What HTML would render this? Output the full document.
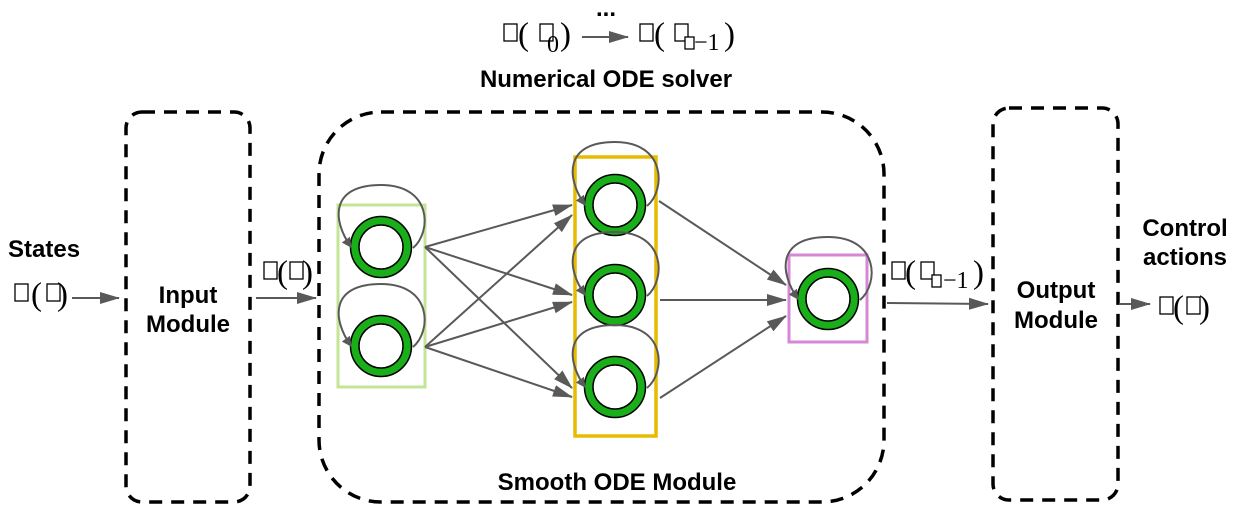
<!DOCTYPE html>
<html><head><meta charset="utf-8"><style>
html,body{margin:0;padding:0;background:#fff;}
svg{display:block;font-family:"Liberation Sans",sans-serif;}
.b{font-weight:bold;font-size:24px;fill:#000;font-family:"Liberation Sans",sans-serif;}
.p{font-family:"Liberation Serif",serif;font-size:33px;fill:#000;}
.s{font-family:"Liberation Serif",serif;font-size:24px;fill:#000;}
.t{fill:#fff;stroke:#000;stroke-width:1.3;}
</style></head><body>
<svg width="1242" height="517" viewBox="0 0 1242 517" xmlns="http://www.w3.org/2000/svg">
<defs>
<marker id="a" markerWidth="10" markerHeight="10" refX="9" refY="5" orient="auto" markerUnits="userSpaceOnUse" viewBox="0 0 10 10">
<path d="M0,0 L10,5 L0,10 z" fill="#595959"/></marker>
<marker id="a2" markerWidth="20" markerHeight="14" refX="19" refY="7" orient="auto" markerUnits="userSpaceOnUse" viewBox="0 0 20 14">
<path d="M0,1 L20,7 L0,13 z" fill="#595959"/></marker>
</defs>

<g fill="none" stroke="#000" stroke-width="3.5" stroke-dasharray="13,9">
<rect x="126" y="112" width="124" height="390" rx="16"/>
<rect x="319" y="112" width="565" height="390" rx="62"/>
<rect x="993" y="108" width="125" height="392" rx="16"/>
</g>

<rect x="338" y="205" width="87" height="182" fill="none" stroke="#c3e596" stroke-width="3"/>
<rect x="575" y="157" width="81" height="279" fill="none" stroke="#e6bb00" stroke-width="3.5"/>
<rect x="789" y="255" width="78" height="87" fill="none" stroke="#d687d6" stroke-width="3"/>

<g stroke="#595959" stroke-width="2" fill="none" marker-end="url(#a2)">
<line x1="425" y1="247" x2="572" y2="205"/>
<line x1="425" y1="247" x2="572" y2="295"/>
<line x1="425" y1="247" x2="572" y2="388"/>
<line x1="425" y1="347" x2="572" y2="215"/>
<line x1="425" y1="347" x2="572" y2="302"/>
<line x1="425" y1="347" x2="572" y2="397"/>
<line x1="659" y1="201" x2="786" y2="285"/>
<line x1="660" y1="300" x2="786" y2="300"/>
<line x1="660" y1="398" x2="786" y2="316"/>
<line x1="72" y1="298" x2="119" y2="298"/>
<line x1="256" y1="298" x2="316" y2="298"/>
<line x1="887" y1="303" x2="988" y2="304"/>
<line x1="1119" y1="304" x2="1150" y2="304"/>
<line x1="582" y1="37" x2="628" y2="37"/>
</g>

<g fill="#1aaf1a" stroke="#000" stroke-width="1.5">
<circle cx="381" cy="247" r="30.5"/><circle cx="381" cy="346" r="30.5"/>
<circle cx="615" cy="205" r="30.5"/><circle cx="615" cy="295" r="30.5"/><circle cx="615" cy="387" r="30.5"/>
<circle cx="828" cy="299" r="30.5"/>
</g>
<g fill="#fff" stroke="#000" stroke-width="1.5">
<circle cx="381" cy="247" r="22"/><circle cx="381" cy="346" r="22"/>
<circle cx="615" cy="205" r="22"/><circle cx="615" cy="295" r="22"/><circle cx="615" cy="387" r="22"/>
<circle cx="828" cy="299" r="22"/>
</g>

<g stroke="#595959" stroke-width="2" fill="none" marker-end="url(#a)">
<path d="M413,248 C432,232 432,185 381,185 C330,185 332,220 351,247"/>
<path d="M413,347 C432,331 432,284 381,284 C330,284 332,319 351,346"/>
<path d="M647,206 C666,190 666,142 615,142 C564,142 566,178 585,205"/>
<path d="M647,296 C666,280 666,232 615,232 C564,232 566,268 585,295"/>
<path d="M647,388 C666,372 666,325 615,325 C564,325 566,360 585,387"/>
<path d="M860,300 C879,284 879,237 828,237 C777,237 779,272 798,299"/>
</g>

<text class="b" x="8" y="257">States</text>
<text class="b" x="188" y="303" text-anchor="middle">Input</text>
<text class="b" x="188" y="332" text-anchor="middle">Module</text>
<text class="b" x="617" y="490" text-anchor="middle">Smooth ODE Module</text>
<text class="b" x="1056" y="298" text-anchor="middle">Output</text>
<text class="b" x="1056" y="328" text-anchor="middle">Module</text>
<text class="b" x="1185" y="236" text-anchor="middle">Control</text>
<text class="b" x="1185" y="265" text-anchor="middle">actions</text>
<text class="b" x="606" y="87" text-anchor="middle">Numerical ODE solver</text>
<text class="b" x="606" y="16" text-anchor="middle">...</text>

<g class="t">
<rect x="504" y="24" width="13" height="17"/><rect x="540" y="24" width="13" height="17"/>
<rect x="640" y="24" width="13" height="17"/><rect x="675" y="24" width="13" height="17"/><rect x="685" y="37" width="9" height="12"/>
<rect x="892" y="262" width="13" height="17"/><rect x="921" y="262" width="13" height="17"/><rect x="932" y="275" width="9" height="12"/>
<rect x="15" y="284" width="13" height="17"/><rect x="47" y="284" width="13" height="17"/>
<rect x="264" y="262" width="13" height="17"/><rect x="290" y="262" width="13" height="17"/>
<rect x="1160" y="297" width="13" height="17"/><rect x="1187" y="297" width="13" height="17"/>
</g>
<text class="p" x="518" y="45">(</text><text class="s" x="547" y="52">0</text><text class="p" x="560" y="45">)</text>
<text class="p" x="654" y="45">(</text><text class="s" x="694" y="50">−1</text><text class="p" x="724" y="45">)</text>
<text class="p" x="905" y="283">(</text><text class="s" x="943" y="288">−1</text><text class="p" x="973" y="283">)</text>
<text class="p" x="31" y="305">(</text><text class="p" x="57" y="305">)</text>
<text class="p" x="277" y="283">(</text><text class="p" x="302" y="283">)</text>
<text class="p" x="1173" y="318">(</text><text class="p" x="1199" y="318">)</text>
</svg>
</body></html>
